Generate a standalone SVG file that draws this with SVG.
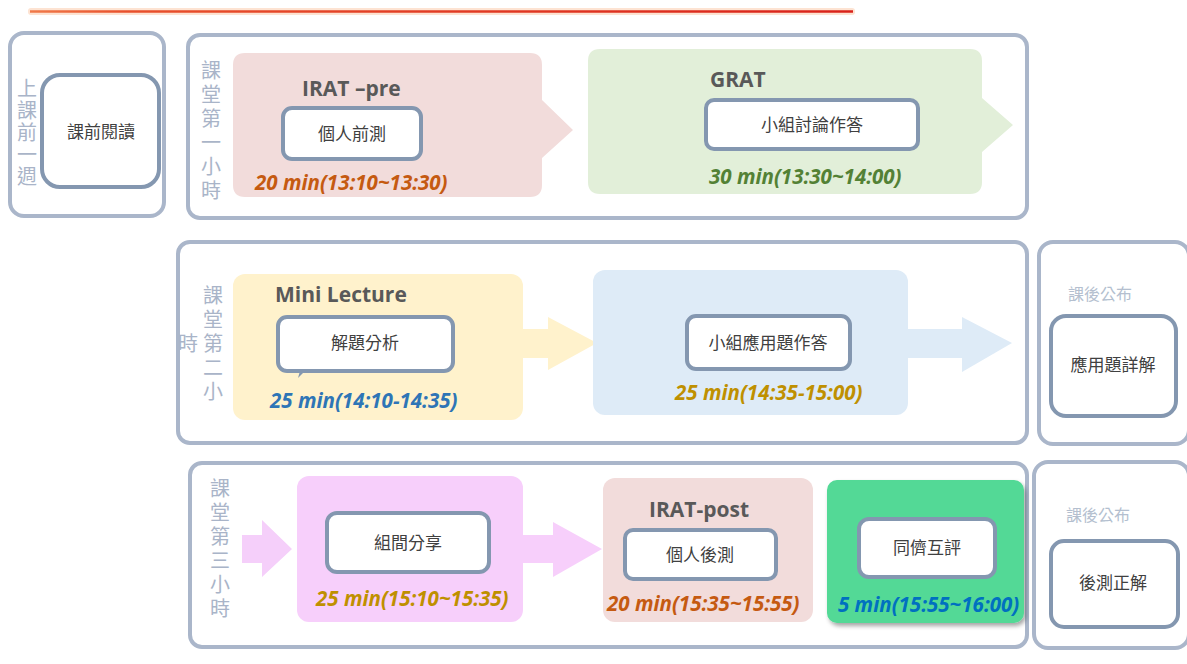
<svg xmlns="http://www.w3.org/2000/svg" width="1187" height="664" viewBox="0 0 1187 664">
<defs>
<style>
.outer{fill:#ffffff;stroke:#aab6ca;stroke-width:4}
.inner{fill:#ffffff;stroke:#8497b0;stroke-width:4}
.vt{font-family:"Noto Sans CJK TC","Noto Sans CJK SC",sans-serif;font-size:20px;fill:#a9b4c8;writing-mode:vertical-rl;text-orientation:upright}
.cn{font-family:"Noto Sans CJK TC","Noto Sans CJK SC",sans-serif;font-size:17px;fill:#404040;text-anchor:middle}
.pub{font-family:"Noto Sans CJK TC","Noto Sans CJK SC",sans-serif;font-size:16px;fill:#b4bfcf}
.ttl{font-family:"Open Sans","Liberation Sans",sans-serif;font-weight:bold;font-size:21px;fill:#595959}
.tm{font-family:"Open Sans","Liberation Sans",sans-serif;font-weight:bold;font-style:italic;font-size:20.5px}
</style>
<linearGradient id="redg" gradientUnits="userSpaceOnUse" x1="28" y1="0" x2="855" y2="0">
<stop offset="0" stop-color="#f07a4a"/>
<stop offset="0.12" stop-color="#e8502c"/>
<stop offset="1" stop-color="#d9221a"/>
</linearGradient>
<filter id="shadow" x="-10%" y="-10%" width="125%" height="130%">
<feDropShadow dx="2" dy="3" stdDeviation="2" flood-color="#000000" flood-opacity="0.35"/>
</filter>
</defs>

<g id="top-line">
<rect x="28" y="8" width="827" height="7" fill="#fde3d2" rx="3"/>
<line x1="30" y1="11.5" x2="853" y2="11.5" stroke="url(#redg)" stroke-width="2.5"/>
</g>

<g id="week-before">
<rect class="outer" x="10" y="33" width="154" height="183" rx="14"/>
<text class="vt" x="27" y="78" letter-spacing="2">上課前一週</text>
<rect class="inner" x="42" y="75" width="117" height="112" rx="18"/>
<text class="cn" x="101" y="138">課前閱讀</text>
</g>

<g id="hour1">
<rect class="outer" x="188" y="35" width="839" height="183" rx="12"/>
<text class="vt" x="211" y="60" letter-spacing="4">課堂第一小時</text>
</g>

<g id="irat-pre">
<path d="M245,53 H530 Q542,53 542,65 V100 L573,130 L542,158 V185 Q542,197 530,197 H245 Q233,197 233,185 V65 Q233,53 245,53 Z" fill="#f2dcdb"/>
<text class="ttl" x="302" y="96">IRAT –pre</text>
<rect class="inner" x="283" y="108" width="138" height="51" rx="9"/>
<text class="cn" x="352" y="140">個人前測</text>
<text class="tm" x="255" y="190" fill="#c55a11">20 min(13:10~13:30)</text>
</g>

<g id="grat">
<path d="M600,49 H970 Q982,49 982,61 V98 L1013,125 L982,152 V182 Q982,194 970,194 H600 Q588,194 588,182 V61 Q588,49 600,49 Z" fill="#e2efd9"/>
<text class="ttl" x="710" y="87">GRAT</text>
<rect class="inner" x="706" y="100" width="212" height="49" rx="8"/>
<text class="cn" x="812" y="131">小組討論作答</text>
<text class="tm" x="709" y="184" fill="#538135">30 min(13:30~14:00)</text>
</g>

<g id="hour2">
<rect class="outer" x="178" y="242" width="849" height="201" rx="12"/>
<text class="vt" x="213" y="285" letter-spacing="4">課堂第二小</text>
<text class="vt" x="188" y="333">時</text>
</g>

<g id="mini-lecture">
<rect x="233" y="274" width="290" height="146" rx="12" fill="#fff2cc"/>
<polygon points="522,329 548,329 548,317 597,343 548,370 548,358 522,358" fill="#fff2cc"/>
<text class="ttl" x="275" y="302">Mini Lecture</text>
<path d="M300,371 L298,378 L305,371 Z" fill="#8497b0"/>
<rect class="inner" x="278" y="317" width="175" height="54" rx="9"/>
<text class="cn" x="365" y="349">解題分析</text>
<text class="tm" x="270" y="408" fill="#2e75b6">25 min(14:10-14:35)</text>
</g>

<g id="group-application">
<rect x="593" y="270" width="315" height="145" rx="12" fill="#deebf7"/>
<polygon points="907,329 962,329 962,317 1012,343 962,372 962,358 907,358" fill="#deebf7"/>
<rect class="inner" x="687" y="316" width="163" height="53" rx="9"/>
<text class="cn" x="768" y="349">小組應用題作答</text>
<text class="tm" x="675" y="400" fill="#bf9000">25 min(14:35-15:00)</text>
</g>

<g id="post-answer-1">
<rect class="outer" x="1039" y="242" width="150" height="202" rx="14"/>
<text class="pub" x="1068" y="300">課後公布</text>
<rect class="inner" x="1051" y="316" width="125" height="100" rx="15"/>
<text class="cn" x="1113" y="371">應用題詳解</text>
</g>

<g id="hour3">
<rect class="outer" x="190" y="463" width="837" height="184" rx="12"/>
<text class="vt" x="220" y="478" letter-spacing="4">課堂第三小時</text>
<polygon points="242,535 262,535 262,520 292,549 262,577 262,563 242,563" fill="#f5cffa"/>
</g>

<g id="group-share">
<rect x="297" y="476" width="226" height="146" rx="12" fill="#f7cffb"/>
<polygon points="522,535 553,535 553,522 602,549 553,577 553,563 522,563" fill="#f7cffb"/>
<rect class="inner" x="327" y="513" width="162" height="59" rx="10"/>
<text class="cn" x="408" y="549">組間分享</text>
<text class="tm" x="316" y="606" fill="#bf9000">25 min(15:10~15:35)</text>
</g>

<g id="irat-post">
<rect x="603" y="478" width="210" height="144" rx="12" fill="#f2dcdb"/>
<text class="ttl" x="649" y="517">IRAT-post</text>
<rect class="inner" x="625" y="530" width="151" height="49" rx="8"/>
<text class="cn" x="700" y="561">個人後測</text>
<text class="tm" x="607" y="611" fill="#c55a11">20 min(15:35~15:55)</text>
</g>

<g id="peer-review">
<rect x="827" y="480" width="197" height="143" rx="10" fill="#52d996" filter="url(#shadow)"/>
<rect class="inner" x="859" y="519" width="136" height="58" rx="10"/>
<text class="cn" x="927" y="554">同儕互評</text>
<text class="tm" x="838" y="612" fill="#0070c0">5 min(15:55~16:00)</text>
</g>

<g id="post-answer-2">
<rect class="outer" x="1034" y="462" width="155" height="186" rx="14"/>
<text class="pub" x="1066" y="521">課後公布</text>
<rect class="inner" x="1051" y="541" width="127" height="86" rx="13"/>
<text class="cn" x="1113" y="589">後測正解</text>
</g>

<g id="connectors"></g>
</svg>
